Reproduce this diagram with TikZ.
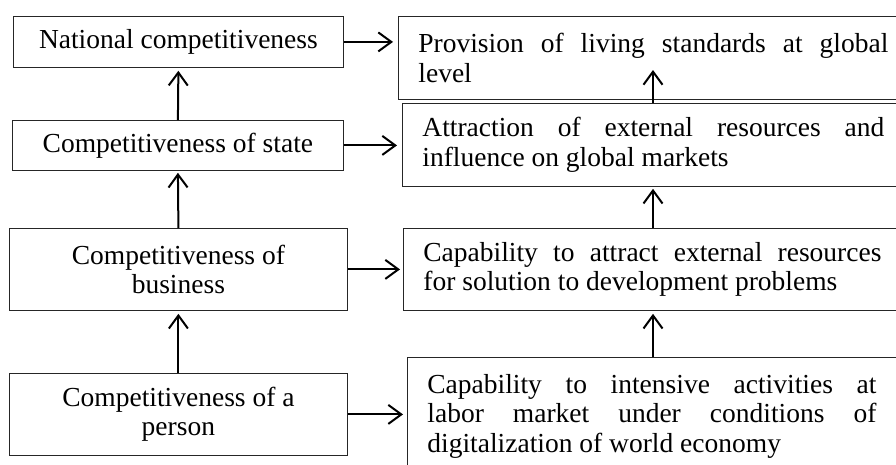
\documentclass[tikz,border=0pt]{standalone}
\usepackage{fontspec}
\setmainfont{Liberation Serif}
\usetikzlibrary{arrows.meta}

\begin{document}
\begin{tikzpicture}[
  x=1pt, y=-1pt,
  font=\fontsize{27.5}{29.5}\selectfont,
  arr/.style={-{Straight Barb[length=13pt,width=19pt]}, line width=2pt},
  lbox/.style={rectangle, draw=black!85, line width=0.8pt, anchor=north west,
               align=center, inner sep=0pt},
  rbox/.style={rectangle, draw=black!85, line width=0.8pt, anchor=north west,
               align=justify, inner xsep=20pt, inner ysep=0pt},
]
\useasboundingbox (0,0) rectangle (896,464);
\clip (0,0) rectangle (896,464);

%% ===== Levels of competitiveness =====
\node[lbox, minimum width=330pt, minimum height=51pt] (nat) at (13,16)
  {National competitiveness};
\node[lbox, minimum width=331pt, minimum height=50pt] (sta) at (12,120)
  {Competitiveness of state};
\node[lbox, minimum width=338pt, minimum height=82pt] (bus) at (9,228)
  {Competitiveness of\\ business};
\node[lbox, minimum width=338pt, minimum height=82pt] (per) at (9,373)
  {Competitiveness of a\\ person};

%% ===== What each level provides =====
\node[rbox, text width=470pt, minimum height=83pt] (liv) at (398,16)
  {Provision of living standards at global\linebreak level};
\node[rbox, text width=462pt, minimum height=83pt] (ext) at (402,103)
  {Attraction of external resources and\linebreak influence on global markets};
\node[rbox, text width=458pt, minimum height=82pt] (cap) at (403,228)
  {Capability to attract external resources\linebreak for solution to development problems};
\node[rbox, text width=449pt, minimum height=118pt] (lab) at (407,357)
  {Capability to intensive activities at\linebreak labor market under conditions of\linebreak
   digitalization of world economy};

\coordinate (rx) at (653,0);

%% upward chains
\draw[arr, shorten >=3pt] (sta.north) -- (nat.south);
\draw[arr, shorten >=2pt] (bus.north) -- (sta.south);
\draw[arr, shorten >=3pt] (per.north) -- (bus.south);

\draw[arr] (ext.north -| rx) -- ++(0,-33);
\draw[arr, shorten >=2pt] (cap.north -| rx) -- (ext.south -| rx);
\draw[arr, shorten >=3pt] (lab.north -| rx) -- (cap.south -| rx);

%% across
\draw[arr, shorten >=5pt] (nat.east) -- (nat.east -| liv.west);
\draw[arr, shorten >=5pt] (sta.east) -- (sta.east -| ext.west);
\draw[arr, shorten >=3pt] (bus.east) -- (bus.east -| cap.west);
\draw[arr, shorten >=4pt] (per.east) -- (per.east -| lab.west);

\end{tikzpicture}
\end{document}
